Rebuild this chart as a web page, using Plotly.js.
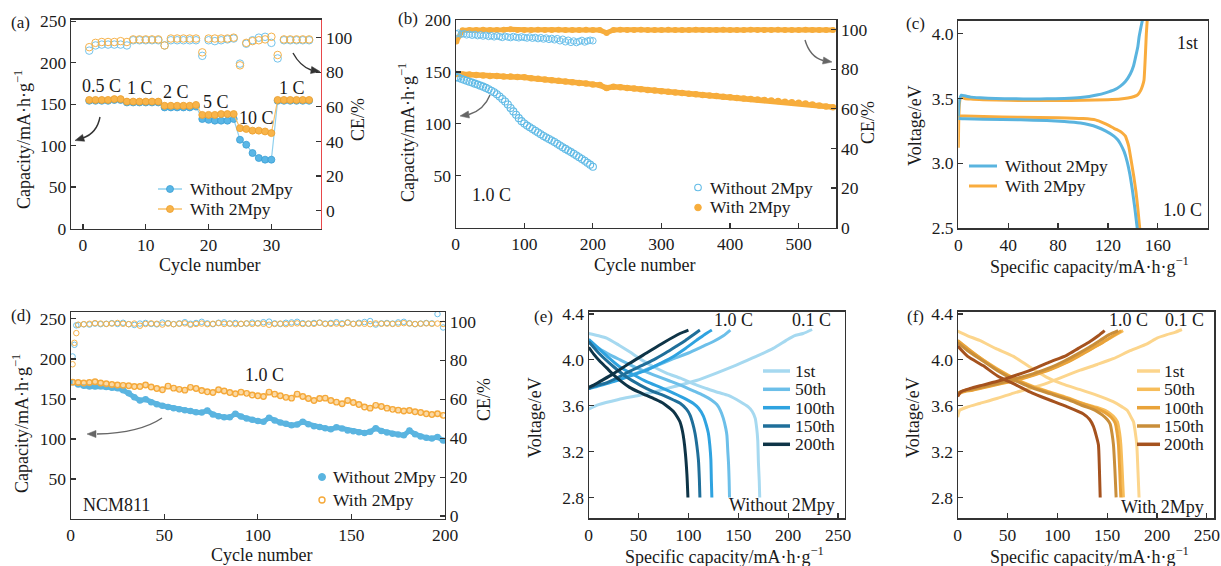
<!DOCTYPE html>
<html><head><meta charset="utf-8">
<script src="https://cdn.plot.ly/plotly-3.0.1.min.js"></script>
<style>html,body{margin:0;padding:0;background:#fff}#chart{width:1221px;height:566px}</style>
</head><body><div id="chart"></div>
<script>
// ---------- (a) rate capability ----------
const cyclesA = [1,2,3,4,5,6,7,8,9,10,11,12,13,14,15,16,17,18,19,20,21,22,23,24,25,26,27,28,29,30,31,32,33,34,35,36];
const capA_without = [154,154,154,154,155,155,152,152,152,152,152,152,146,146,146,146,146,147,132,131,130,130,130,132,107,101,91,85,83,83,154,154,154,154,154,154];
const capA_with = [155,155,155,155,156,156,153,153,153,153,153,153,148,148,148,148,148,149,137,137,137,138,138,138,121,120,118,118,117,115,155,155,155,155,155,155];
const ceA_without = [92.5,95.5,96,96,96,96,95.5,98.5,98.5,98.5,98.5,98.5,95.5,98.5,98.5,98.5,98.5,98.5,89.5,98.5,98,98.5,99,99.5,85,96.5,98.5,100,100.5,97,88,98.5,98.5,98.5,98.5,98.5];
const ceA_with = [94.5,97,97.5,97.5,97.5,98,97.5,99,99,99,99,99,95.5,99.5,99.5,99.5,99.5,99.5,91.5,99.5,99.5,99.5,99.5,100,84,97,98,98.5,99,100.5,90,99,99,99,99,99];
const rateLabels = ['0.5 C','1 C','2 C','5 C','10 C','1 C'];

// ---------- (b) LFP long cycling 1.0 C ----------
const cyclesB_without = [1,4,8,12,16,20,24,28,32,36,40,44,48,52,56,60,64,68,72,76,80,84,88,92,96,100,104,108,112,116,120,124,128,132,136,140,144,148,152,156,160,164,168,172,176,180,184,188,192,196,200];
const capB_without = [145,144.5,143.5,142.5,141.5,140.6,139.7,138.7,137.8,136.8,135.8,134.6,133.3,131.9,130.4,128.5,126.3,124,121.5,118.6,115.3,112,108.8,105.5,102.6,100.3,98.3,96.7,95,93.3,91.6,90,88.3,86.8,85.4,83.9,82.5,80.9,79.2,77.5,75.9,74.3,72.8,71.2,69.5,67.8,66.1,64.4,62.6,60.7,58.7];
const ceB_without = [97.8,98.2,97.6,97.9,97.3,97.6,97.1,97.5,96.9,97.3,96.7,97.1,96.5,96.9,96.3,96.8,96.4,96.0,96.6,96.2,95.9,96.5,96.1,95.8,96.3,96.0,95.7,96.2,95.6,96.0,95.4,95.9,95.2,95.7,95.0,95.5,94.8,95.4,94.3,95.1,93.8,94.6,93.5,94.2,93.4,94.0,94.5,93.7,94.2,94.6,94.3];
const cyclesB_with = [1,10,20,30,40,50,60,70,80,90,100,110,120,130,140,150,160,170,180,190,200,210,220,230,240,250,260,270,280,290,300,310,320,330,340,350,360,370,380,390,400,410,420,430,440,450,460,470,480,490,500,510,520,530,540,550];
const capB_with = [148,147.5,147.5,147,146.5,146,146,145.5,145.5,145,144.8,144,143.5,142.8,142,141.5,140.8,140,139.4,138.8,138,137.3,134.5,135.8,135.2,134.6,134,133.3,132.7,132,131.5,130.9,130.3,129.7,129,128.5,127.9,127.3,126.7,126.1,125.5,125,124.5,124,123.4,122.9,122.4,121.9,121.4,120.9,120.4,119.5,118.6,117.7,116.8,115.9];
const ceB_with = [94,99.6,99.8,99.7,99.9,99.8,99.7,99.9,100.1,99.8,99.7,99.8,99.9,99.7,99.8,99.9,99.8,99.7,99.8,99.9,99.8,99.7,98.3,99.8,99.9,99.7,99.8,99.9,99.8,99.7,99.8,99.9,99.8,99.7,99.8,99.9,99.8,99.7,99.8,99.9,99.8,99.7,99.8,99.9,99.8,99.7,99.8,99.9,99.8,99.7,99.8,99.9,99.8,99.7,99.8,99.8];

// ---------- (c) first charge/discharge ----------
const cChgWoX = [0,0.8,2.5,5,10,17.5,30,44,60,71,85,98,105,111,118,125,130,134,138,140.5,142.2,144,145,146.5,147.6];
const cChgWoY = [3.36,3.48,3.525,3.52,3.51,3.505,3.5,3.497,3.496,3.497,3.5,3.507,3.515,3.526,3.543,3.565,3.595,3.63,3.69,3.75,3.82,3.9,3.975,4.05,4.1];
const cChgWX = [0,0.3,0.8,2,5,10,20,40,80,100,120,130,136,141,144,146.2,147.8,148.9,149.6,150.2,150.8,151.5];
const cChgWY = [3.12,3.3,3.45,3.51,3.5,3.495,3.49,3.485,3.484,3.486,3.49,3.495,3.503,3.515,3.53,3.56,3.6,3.64,3.75,3.87,4.0,4.1];
const cDisWoX = [0,5,20,50,71,85,98,105,111,118,124.8,128,130,133,135.5,137.5,139.5,141.5,143.5];
const cDisWoY = [3.345,3.343,3.34,3.335,3.33,3.322,3.31,3.297,3.28,3.25,3.21,3.18,3.15,3.09,3.01,2.92,2.8,2.66,2.5];
const cDisWX = [0,5,20,50,80,100,110,116.7,121,124.8,128,130,132,134,135.5,136.7,138.5,140.7,142.5,144,145.5];
const cDisWY = [3.365,3.365,3.36,3.355,3.352,3.345,3.335,3.31,3.29,3.27,3.255,3.245,3.23,3.21,3.17,3.13,3.03,2.9,2.78,2.65,2.5];

// ---------- (d) NCM811 cycling ----------
const cyclesD = [1,4,7,10,13,16,19,22,25,28,31,34,37,40,43,46,49,52,55,58,61,64,67,70,73,76,79,82,85,88,91,94,97,100,103,106,109,112,115,118,121,124,127,130,133,136,139,142,145,148,151,154,157,160,163,166,169,172,175,178,181,184,187,190,193,196,199];
const capD_without = [171,168,166.5,165.5,165.5,166,165,164,163.5,161,157,152,148,149.5,146,143.5,141.5,140,138.5,137,136,135,133.5,133,135.5,130.5,128.5,127,127,131.5,128,125.5,124,122.5,121.5,126.5,123,120.5,119,117,118,121.5,118.5,116,115,113.5,112,114.5,113,110.5,109.5,108.5,107.5,109,113.5,110,108,106.5,105.5,104.5,110.5,106,103,101.5,100.5,102.5,98];
const capD_with = [171,170.5,170,170.5,171.5,170,169,168,167.5,167,166.5,165.5,165.5,167.5,165,163,161.5,166,163.5,162,161,164.5,163,160.5,159,158,161.5,160,158,156.5,158.5,157,155,154,153,158.5,156,154,152,151,156,153,150.5,148,150.5,151,148,146,144,148,145.5,143,140,138.5,142,140.5,138.5,137,136,135,135.5,134,133,131.5,130.5,131.5,129.5];
const cyclesD_ce = [1,2,3,4,7,10,13,16,19,22,25,28,31,34,37,40,43,46,49,52,55,58,61,64,67,70,73,76,79,82,85,88,91,94,97,100,103,106,109,112,115,118,121,124,127,130,133,136,139,142,145,148,151,154,157,160,163,166,169,172,175,178,181,184,187,190,193,196,199];
const ceD_without = [82,88,98,98.2,98.5,98.4,98.9,98.6,98.8,99.1,98.7,99.3,98.6,98.2,98.9,99.2,98.7,98.5,99.4,99.1,98.6,99.0,99.6,98.8,99.2,99.8,99.0,98.6,99.3,99.5,98.9,99.2,98.7,98.9,99.4,99.1,99.6,99.9,99.0,98.7,99.3,99.5,99.8,99.1,98.8,99.2,99.4,98.9,99.2,99.6,99.0,99.5,98.8,99.3,99.7,100.2,98.4,99.0,99.2,98.9,99.5,99.8,99.1,98.6,98.9,99.2,99.0,103.8,96.9];
const ceD_with = [78,89,94,98.3,98.6,98.8,99.1,98.9,98.7,98.9,99.2,98.8,98.6,98.9,97.8,98.7,99.0,98.8,98.4,98.9,98.6,98.8,99.0,98.3,98.7,98.9,98.6,98.8,99.1,98.7,98.9,98.6,98.8,99.0,98.7,98.9,98.8,98.3,98.7,98.9,98.6,98.8,99.0,98.7,98.9,98.8,99.3,98.7,98.8,98.9,98.6,99.3,98.7,98.9,98.8,98.6,99.0,98.8,98.9,98.7,98.8,99.1,98.9,98.7,98.8,99.0,98.8,98.9,98.7];

// ---------- (e) Without 2Mpy voltage profiles ----------
const cycleNames = ['1st','50th','100th','150th','200th'];
const eChg1X = [0,10,30,50,65,85,108,128,148,168,185,198,206,215,224];
const eChg1Y = [3.57,3.61,3.655,3.69,3.72,3.765,3.82,3.885,3.955,4.03,4.1,4.17,4.21,4.23,4.265];
const eDis1X = [0,10,18,30,41,53,65,78,92,105,118,130,140,152,160,164,167,168.5,169.5,170.2,171,171.5];
const eDis1Y = [4.23,4.21,4.19,4.13,4.07,4.0,3.94,3.885,3.84,3.79,3.75,3.715,3.69,3.635,3.59,3.55,3.49,3.4,3.3,3.1,2.95,2.8];
const eChg50X = [0,3,10,30,50,65,85,100,115,125,135,142];
const eChg50Y = [3.75,3.77,3.78,3.83,3.89,3.94,4.01,4.06,4.12,4.16,4.21,4.26];
const eDis50X = [0,10,20,31.5,48,65,80,92,105,115,123,128.5,132,135,137.5,138.6,139.5,140.2,140.8,141.2];
const eDis50Y = [4.15,4.1,4.05,4.0,3.93,3.87,3.82,3.78,3.73,3.69,3.65,3.61,3.56,3.49,3.4,3.34,3.2,3.1,2.95,2.8];
const eChg100X = [0,5,15,25,40,58,72,85,97,108,116,123.5];
const eChg100Y = [3.75,3.76,3.785,3.81,3.855,3.91,3.97,4.03,4.1,4.17,4.22,4.26];
const eDis100X = [0,10,20,31,45,58,72,85,97,105,110,115,118,120,121.5,122.5,123,123.5];
const eDis100Y = [4.18,4.1,4.02,3.94,3.87,3.81,3.76,3.71,3.66,3.62,3.58,3.51,3.43,3.36,3.25,3.13,2.95,2.8];
const eChg150X = [0,5,18,30,41,53,65,77,88,97,105,111.5];
const eChg150Y = [3.75,3.77,3.8,3.85,3.9,3.95,4.0,4.06,4.12,4.17,4.22,4.26];
const eDis150X = [0,10,25,38,51.5,63,75,85,92,98,101.5,104.5,106.6,108.5,110,111,111.5];
const eDis150Y = [4.16,4.06,3.94,3.85,3.78,3.73,3.69,3.65,3.62,3.57,3.52,3.44,3.36,3.25,3.13,2.95,2.8];
const eChg200X = [0,5,11,25,41,58,75,91.5,100];
const eChg200Y = [3.76,3.78,3.81,3.88,3.97,4.06,4.15,4.23,4.26];
const eDis200X = [0,5,11,18,25,33,41,50,58,67,75,81,85,89,91.5,94,95.5,97,98.5,99.5];
const eDis200Y = [4.11,4.05,3.99,3.93,3.87,3.81,3.76,3.72,3.69,3.655,3.62,3.58,3.55,3.5,3.46,3.38,3.3,3.18,3.0,2.8];

// ---------- (f) With 2Mpy voltage profiles ----------
const fChg1X = [0,2,10,22,40,56,72,89,105,123,140,156,173,190,200,210,218,225];
const fChg1Y = [3.5,3.56,3.59,3.62,3.665,3.71,3.75,3.795,3.85,3.91,3.96,4.01,4.08,4.14,4.19,4.22,4.24,4.265];
const fDis1X = [0,10,22,38,56,72,89,105,123,140,156,165,170,174,176.4,178,179.7,180.8,182];
const fDis1Y = [4.25,4.21,4.17,4.1,4.03,3.94,3.85,3.79,3.74,3.69,3.635,3.59,3.56,3.5,3.46,3.38,3.26,3.05,2.8];
const fChg50X = [0,5,15,30,45,60,76,93,109,122,135,147,157,166];
const fChg50Y = [3.7,3.725,3.74,3.77,3.8,3.83,3.87,3.92,3.98,4.04,4.1,4.16,4.21,4.255];
const fDis50X = [0,10,25.4,40,58.9,75,92.3,110,125.8,140,150,156,160.3,162.5,163.7,165,166.3];
const fDis50Y = [4.16,4.09,4.0,3.92,3.83,3.77,3.72,3.67,3.62,3.585,3.55,3.51,3.46,3.36,3.26,3.05,2.8];
const fChg100X = [0,5,15,30,45,60,76,93,109,122,134,146,156,164];
const fChg100Y = [3.7,3.72,3.735,3.765,3.795,3.825,3.865,3.915,3.975,4.035,4.095,4.155,4.21,4.255];
const fDis100X = [0,10,25.4,40,58.9,75,92.3,110,125.8,140,148,154,158,160,161.3,162.5,163.7];
const fDis100Y = [4.17,4.1,4.0,3.915,3.825,3.765,3.715,3.665,3.615,3.575,3.54,3.5,3.45,3.36,3.26,3.05,2.8];
const fChg150X = [0,5,15,30,45,60,76,92,107,120,132,143,152,161];
const fChg150Y = [3.71,3.73,3.745,3.775,3.805,3.84,3.88,3.93,3.99,4.05,4.11,4.17,4.22,4.255];
const fDis150X = [0,10,25.4,40,58.9,75,92.3,110,125.8,138,145,150,153,155,156.3,157.7,159];
const fDis150Y = [4.15,4.08,3.99,3.905,3.815,3.755,3.705,3.655,3.6,3.56,3.52,3.48,3.44,3.35,3.26,3.05,2.8];
const fChg200X = [0,3,12.3,25,42.4,60,75.9,92,109.3,121,132.8,141,147.5];
const fChg200Y = [3.68,3.72,3.75,3.78,3.82,3.87,3.92,3.98,4.04,4.1,4.16,4.21,4.255];
const fDis200X = [0,10,25.4,40,58.9,75,92.3,110,125.8,132.4,136.2,139,141.2,142.2,143];
const fDis200Y = [4.12,4.03,3.95,3.86,3.78,3.71,3.65,3.59,3.53,3.48,3.42,3.34,3.26,3.05,2.8];

// ---------- styling ----------
const W = 1221, H = 566;
const FONT = 'Liberation Serif, Times New Roman, serif';
const TXT = '#1a1a1a';
const ORANGE = '#f7ad3c';
const eColors = ['#a6d9f0','#6cbfe9','#2fa3e0','#1f6f9a','#0e3447'];
const fColors = ['#fcd58c','#f7bd5a','#e9a33a','#c98e3a','#a5521e'];
const PX = x => x / W, PY = y => 1 - y / H;
const dX = (a, b) => [PX(a), PX(b)];
const dY = (top, bottom) => [PY(bottom), PY(top)];

function axis(extra) {
  return Object.assign({
    showline: true, linecolor: '#333', linewidth: 1.2, mirror: false,
    ticks: 'inside', ticklen: 5, tickwidth: 1.2, tickcolor: '#333',
    showgrid: false, zeroline: false, fixedrange: true,
    tickfont: {family: FONT, size: 17.5, color: TXT}
  }, extra);
}

const traces = [];
function add(t) { t.showlegend = false; t.hoverinfo = 'skip'; traces.push(t); }

// (a)
add({x: cyclesA, y: capA_without, xaxis: 'x', yaxis: 'y', mode: 'lines+markers',
  line: {color: '#8fd0ee', width: 1.2}, marker: {size: 7, color: '#5ab6e6', line: {color: '#3b9fd4', width: 0.8}}});
add({x: cyclesA, y: capA_with, xaxis: 'x', yaxis: 'y', mode: 'lines+markers',
  line: {color: '#f8c06a', width: 1.2}, marker: {size: 7, color: '#f8b44a', line: {color: '#ec9e2c', width: 0.8}}});
add({x: cyclesA, y: ceA_without, xaxis: 'x', yaxis: 'y2', mode: 'markers',
  marker: {symbol: 'circle-open', size: 7.5, color: '#74c4ec', line: {width: 1}}});
add({x: cyclesA, y: ceA_with, xaxis: 'x', yaxis: 'y2', mode: 'markers',
  marker: {symbol: 'circle-open', size: 7.5, color: '#f6b24a', line: {width: 1}}});

// (b)
add({x: cyclesB_with, y: ceB_with, xaxis: 'x2', yaxis: 'y4', mode: 'lines+markers',
  line: {color: ORANGE, width: 5}, marker: {size: 6, color: ORANGE}});
add({x: cyclesB_without, y: ceB_without, xaxis: 'x2', yaxis: 'y4', mode: 'markers',
  marker: {symbol: 'circle-open', size: 6.5, color: '#6cc0ea', line: {width: 1}}});
add({x: cyclesB_with, y: capB_with, xaxis: 'x2', yaxis: 'y3', mode: 'lines+markers',
  line: {color: ORANGE, width: 5.5}, marker: {size: 6.5, color: ORANGE}});
add({x: cyclesB_without, y: capB_without, xaxis: 'x2', yaxis: 'y3', mode: 'markers',
  marker: {symbol: 'circle-open', size: 7, color: '#62bbe6', line: {width: 1.1}}});

// (c)
const cBlue = '#5ab4df', cOrange = '#f9ac3e';
add({x: cChgWX, y: cChgWY, xaxis: 'x3', yaxis: 'y5', mode: 'lines', line: {color: cOrange, width: 3, shape: 'spline', smoothing: 0.5}});
add({x: cDisWX, y: cDisWY, xaxis: 'x3', yaxis: 'y5', mode: 'lines', line: {color: cOrange, width: 3, shape: 'spline', smoothing: 0.5}});
add({x: cChgWoX, y: cChgWoY, xaxis: 'x3', yaxis: 'y5', mode: 'lines', line: {color: cBlue, width: 3, shape: 'spline', smoothing: 0.5}});
add({x: cDisWoX, y: cDisWoY, xaxis: 'x3', yaxis: 'y5', mode: 'lines', line: {color: cBlue, width: 3, shape: 'spline', smoothing: 0.5}});

// (d)
add({x: cyclesD_ce, y: ceD_without, xaxis: 'x4', yaxis: 'y7', mode: 'markers',
  marker: {symbol: 'circle-open', size: 5.5, color: '#6cc0ea', line: {width: 1}}});
add({x: cyclesD_ce, y: ceD_with, xaxis: 'x4', yaxis: 'y7', mode: 'markers',
  marker: {symbol: 'circle-open', size: 5.5, color: '#f6b24a', line: {width: 1}}});
add({x: cyclesD, y: capD_without, xaxis: 'x4', yaxis: 'y6', mode: 'lines+markers',
  line: {color: '#5ab4e0', width: 5}, marker: {size: 6.5, color: '#5ab4e0'}});
add({x: cyclesD, y: capD_with, xaxis: 'x4', yaxis: 'y6', mode: 'lines+markers',
  line: {color: '#fbd9a4', width: 4}, marker: {symbol: 'circle-open', size: 5.5, color: '#f5a93a', line: {width: 1.4}}});

// (e) & (f)
const eCurves = [[eChg1X,eChg1Y,eDis1X,eDis1Y],[eChg50X,eChg50Y,eDis50X,eDis50Y],[eChg100X,eChg100Y,eDis100X,eDis100Y],[eChg150X,eChg150Y,eDis150X,eDis150Y],[eChg200X,eChg200Y,eDis200X,eDis200Y]];
const fCurves = [[fChg1X,fChg1Y,fDis1X,fDis1Y],[fChg50X,fChg50Y,fDis50X,fDis50Y],[fChg100X,fChg100Y,fDis100X,fDis100Y],[fChg150X,fChg150Y,fDis150X,fDis150Y],[fChg200X,fChg200Y,fDis200X,fDis200Y]];
eCurves.forEach((c, i) => {
  add({x: c[0], y: c[1], xaxis: 'x5', yaxis: 'y8', mode: 'lines', name: cycleNames[i], line: {color: eColors[i], width: 3, shape: 'spline', smoothing: 0.6}});
  add({x: c[2], y: c[3], xaxis: 'x5', yaxis: 'y8', mode: 'lines', name: cycleNames[i], line: {color: eColors[i], width: 3, shape: 'spline', smoothing: 0.6}});
});
fCurves.forEach((c, i) => {
  add({x: c[0], y: c[1], xaxis: 'x6', yaxis: 'y9', mode: 'lines', name: cycleNames[i], line: {color: fColors[i], width: 3, shape: 'spline', smoothing: 0.6}});
  add({x: c[2], y: c[3], xaxis: 'x6', yaxis: 'y9', mode: 'lines', name: cycleNames[i], line: {color: fColors[i], width: 3, shape: 'spline', smoothing: 0.6}});
});

// ---------- annotations & shapes ----------
const ann = [], shapes = [];
function txt(x, y, s, o) {
  ann.push(Object.assign({xref: 'paper', yref: 'paper', x: PX(x), y: PY(y), text: s, showarrow: false,
    xanchor: 'center', yanchor: 'middle', font: {family: FONT, size: 18, color: TXT}}, o || {}));
}
function vtxt(x, y, s) { txt(x, y, s, {textangle: -90}); }
function curve(x0, y0, cx, cy, x1, y1, color) {
  shapes.push({type: 'path', xref: 'paper', yref: 'paper',
    path: `M ${PX(x0)} ${PY(y0)} Q ${PX(cx)} ${PY(cy)} ${PX(x1)} ${PY(y1)}`, line: {color: color, width: 1.4}});
}
// filled triangular arrowhead with tip (tx,ty) pointing away from (fx,fy)
function head(tx, ty, fx, fy, color) {
  const dx = tx - fx, dy = ty - fy, L = Math.hypot(dx, dy) || 1;
  const ux = dx / L, uy = dy / L, len = 9, hw = 3.6;
  const bx = tx - ux * len, by = ty - uy * len;
  const p1 = [bx - uy * hw, by + ux * hw], p2 = [bx + uy * hw, by - ux * hw];
  shapes.push({type: 'path', xref: 'paper', yref: 'paper',
    path: `M ${PX(tx)} ${PY(ty)} L ${PX(p1[0])} ${PY(p1[1])} L ${PX(p2[0])} ${PY(p2[1])} Z`,
    fillcolor: color, line: {color: color, width: 0.5}});
}
function legLine(x0, x1, y, color, width) {
  shapes.push({type: 'line', xref: 'paper', yref: 'paper', x0: PX(x0), x1: PX(x1), y0: PY(y), y1: PY(y), line: {color: color, width: width}});
}
function legDot(x, y, r, fill, lc, lw) {
  shapes.push({type: 'circle', xref: 'paper', yref: 'paper', xsizemode: 'pixel', ysizemode: 'pixel',
    xanchor: PX(x), yanchor: PY(y), x0: -r, x1: r, y0: -r, y1: r, fillcolor: fill, line: {color: lc, width: lw}});
}
function legText(x, y, s) { txt(x, y, s, {xanchor: 'left', font: {family: FONT, size: 17.5, color: TXT}}); }

// panel letters
const letterFont = {family: FONT, size: 17, color: TXT};
txt(20, 22, '(a)', {font: letterFont});
txt(408, 18, '(b)', {font: letterFont});
txt(915, 24, '(c)', {font: letterFont});
txt(21, 315, '(d)', {font: letterFont});
txt(543, 316, '(e)', {font: letterFont});
txt(915, 316, '(f)', {font: letterFont});

// axis titles
const capTitle = 'Capacity/mA·h·g<sup>−1</sup>';
const specTitle = 'Specific capacity/mA·h·g<sup>−1</sup>';
txt(209, 265, 'Cycle number'); vtxt(22, 140, capTitle); vtxt(358, 120, 'CE/%');
txt(644, 265, 'Cycle number'); vtxt(406, 132, capTitle); vtxt(868, 123, 'CE/%');
txt(1089, 265, specTitle); vtxt(915, 126, 'Voltage/eV');
txt(261, 555, 'Cycle number'); vtxt(20, 424, capTitle); vtxt(484, 400, 'CE/%');
txt(724, 555, specTitle); vtxt(535, 418, 'Voltage/eV');
txt(1089, 555, specTitle); vtxt(913, 418, 'Voltage/eV');

// (a) rate labels
const rateLabelPos = [[101,86],[140,88],[176,92],[216,102],[256,118],[292,88]];
rateLabels.forEach((s, i) => txt(rateLabelPos[i][0], rateLabelPos[i][1], s));
curve(100, 117, 97, 133, 83, 138, '#333'); head(75, 140.5, 83, 138, '#333');
curve(293, 53, 300, 66, 311, 70, '#333'); head(320, 71.5, 311, 70, '#333');
legLine(158, 182, 189, '#8fd0ee', 1.5); legDot(170, 189, 3.5, '#5ab6e6', '#3b9fd4', 0.8); legText(188, 189, 'Without 2Mpy');
legLine(158, 182, 209, '#f8c06a', 1.5); legDot(170, 209, 3.5, '#f8b44a', '#ec9e2c', 0.8); legText(188, 209, 'With 2Mpy');

// (b)
txt(491, 195, '1.0 C');
curve(490, 95, 484, 110, 469, 114.5, '#666'); head(460, 116, 469, 114.5, '#666');
curve(805, 40, 810, 57, 823, 60.5, '#666'); head(832, 62, 823, 60.5, '#666');
legDot(698, 187.5, 3.3, 'rgba(0,0,0,0)', '#62bbe6', 1.1); legText(708, 187.5, 'Without 2Mpy');
legDot(698, 207.5, 3.3, ORANGE, ORANGE, 1); legText(708, 207.5, 'With 2Mpy');

// (c)
txt(1187, 43, '1st'); txt(1182, 210, '1.0 C');
legLine(969, 997, 166, cBlue, 3); legText(1003, 166, 'Without 2Mpy');
legLine(969, 997, 186, cOrange, 3); legText(1003, 186, 'With 2Mpy');

// (d)
txt(264, 375, '1.0 C'); txt(116, 505, 'NCM811');
curve(162, 418, 140, 433, 97, 434, '#666'); head(87, 434, 97, 434, '#666');
legDot(322, 477, 3.5, '#5ab4e0', '#5ab4e0', 1); legText(331, 477, 'Without 2Mpy');
legDot(322, 500, 3, 'rgba(0,0,0,0)', '#f5a93a', 1.4); legText(331, 500, 'With 2Mpy');

// (e)
txt(733, 320, '1.0 C'); txt(812, 320, '0.1 C'); txt(782, 505, 'Without 2Mpy');
const legRows = [371, 389.3, 407.7, 426, 444.3];
cycleNames.forEach((s, i) => { legLine(763, 790, legRows[i], eColors[i], 3.5); legText(793, legRows[i], s); });
// (f)
txt(1128, 320, '1.0 C'); txt(1184, 320, '0.1 C'); txt(1162, 507, 'With 2Mpy');
cycleNames.forEach((s, i) => { legLine(1137, 1160, legRows[i], fColors[i], 3.5); legText(1162, legRows[i], s); });

const layout = {
  width: W, height: 566, margin: {l: 0, r: 0, t: 0, b: 0}, paper_bgcolor: '#fff', plot_bgcolor: 'rgba(0,0,0,0)',
  showlegend: false, font: {family: FONT, color: TXT},
  // (a)
  xaxis: axis({domain: dX(71, 321), anchor: 'y', range: [-1.9, 37.9], tickvals: [0,10,20,30], mirror: true}),
  yaxis: axis({domain: dY(19.5, 228.5), anchor: 'x', range: [0, 252], tickvals: [0,50,100,150,200,250]}),
  yaxis2: axis({overlaying: 'y', side: 'right', anchor: 'x', range: [-10.3, 110.5], tickvals: [0,20,40,60,80,100], linecolor: '#e8474a', linewidth: 1.4}),
  // (b)
  xaxis2: axis({domain: dX(455.7, 836.4), anchor: 'y3', range: [0, 555], tickvals: [0,100,200,300,400,500], mirror: true}),
  yaxis3: axis({domain: dY(20, 227.7), anchor: 'x2', range: [0, 200], tickvals: [50,100,150,200]}),
  yaxis4: axis({overlaying: 'y3', side: 'right', anchor: 'x2', range: [0, 104.8], tickvals: [0,20,40,60,80,100]}),
  // (c)
  xaxis3: axis({domain: dX(958.3, 1207.7), anchor: 'y5', range: [0, 200], tickvals: [0,40,80,120,160], mirror: true}),
  yaxis5: axis({domain: dY(20.5, 228.3), anchor: 'x3', range: [2.5, 4.1], tickvals: [2.5,3.0,3.5,4.0], tickformat: '.1f', mirror: true}),
  // (d)
  xaxis4: axis({domain: dX(70.7, 445), anchor: 'y6', range: [0, 200], tickvals: [0,50,100,150,200], mirror: true}),
  yaxis6: axis({domain: dY(311.7, 519), anchor: 'x4', range: [0, 259], tickvals: [50,100,150,200,250]}),
  yaxis7: axis({overlaying: 'y6', side: 'right', anchor: 'x4', range: [-1.5, 105], tickvals: [0,20,40,60,80,100]}),
  // (e)
  xaxis5: axis({domain: dX(588.7, 845), anchor: 'y8', range: [0, 257], tickvals: [0,50,100,150,200,250], mirror: true}),
  yaxis8: axis({domain: dY(311.5, 518.3), anchor: 'x5', range: [2.618, 4.422], tickvals: [2.8,3.2,3.6,4.0,4.4], tickformat: '.1f', mirror: true}),
  // (f)
  xaxis6: axis({domain: dX(957.7, 1214.3), anchor: 'y9', range: [0, 257.5], tickvals: [0,50,100,150,200,250], mirror: true}),
  yaxis9: axis({domain: dY(311.5, 518.3), anchor: 'x6', range: [2.618, 4.422], tickvals: [2.8,3.2,3.6,4.0,4.4], tickformat: '.1f', mirror: true}),
  annotations: ann, shapes: shapes
};
Plotly.newPlot('chart', traces, layout, {staticPlot: true, displayModeBar: false});
</script></body></html>
